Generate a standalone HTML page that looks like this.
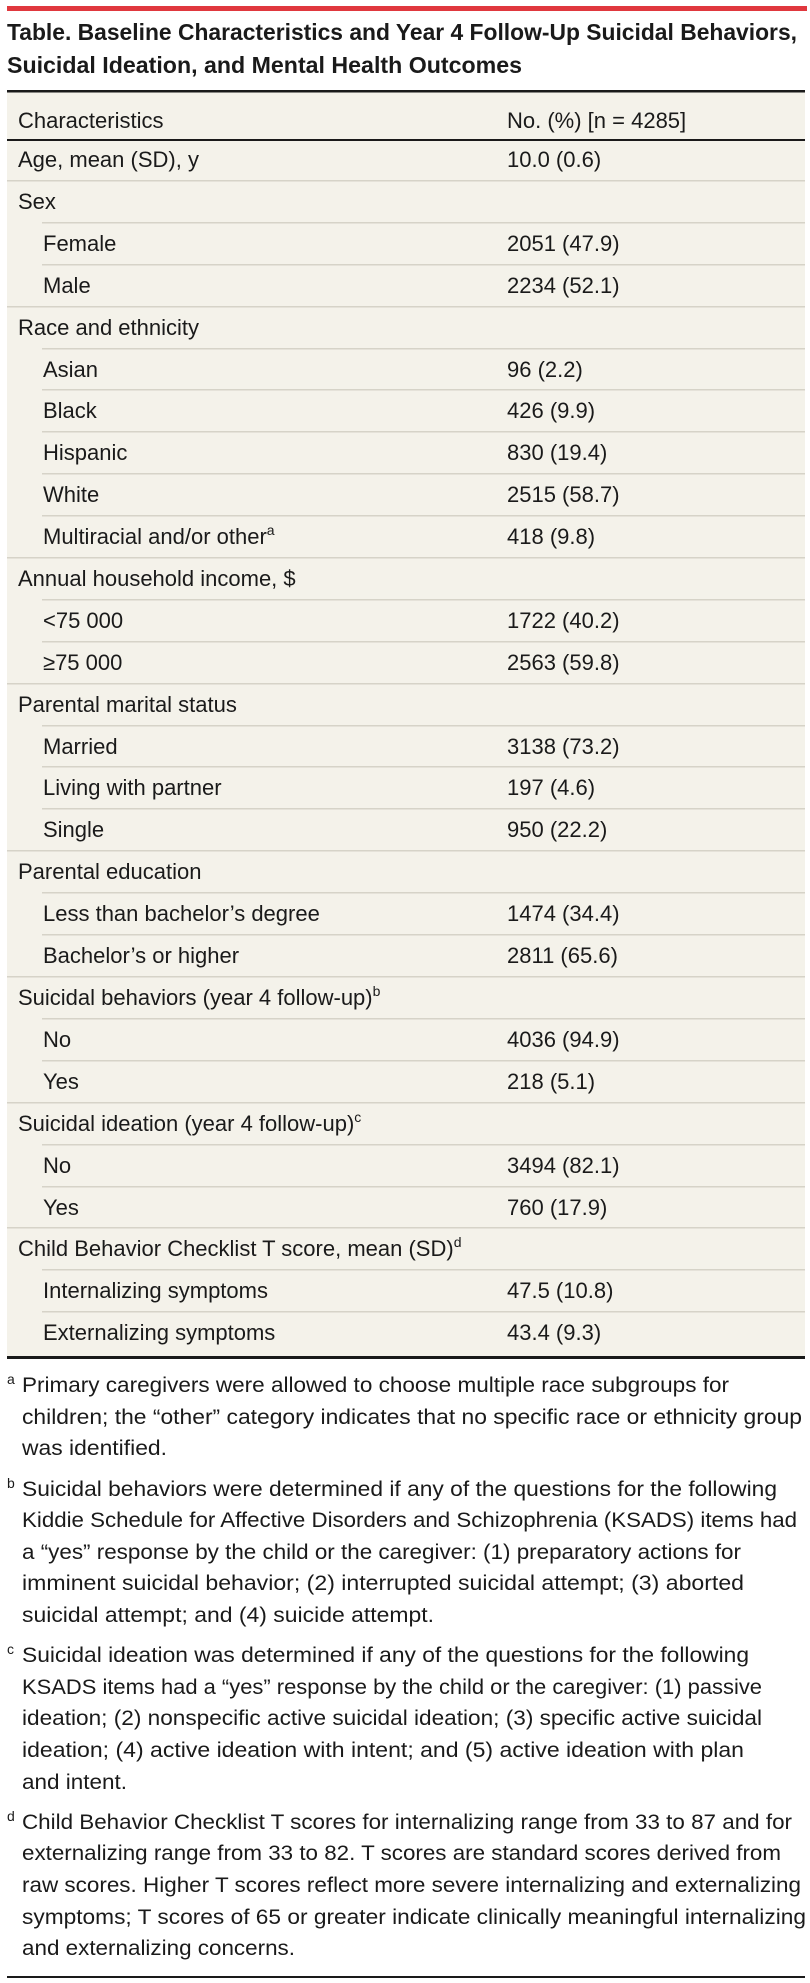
<!DOCTYPE html>
<html><head><meta charset="utf-8"><style>
html,body{margin:0;padding:0;background:#fff;}
svg{display:block;}
text{font-family:"Liberation Sans",sans-serif;fill:#1a1a1a;}
.r{font-size:22px;}
.f{font-size:21px;}
.s{font-size:14px;}
</style></head><body>
<svg width="810" height="1983" viewBox="0 0 810 1983" xmlns="http://www.w3.org/2000/svg">
<rect x="7" y="6" width="800" height="5" fill="#e0383e"/>
<text x="7" y="40" font-size="23" font-weight="bold" textLength="790" lengthAdjust="spacingAndGlyphs">Table. Baseline Characteristics and Year 4 Follow-Up Suicidal Behaviors,</text>
<text x="7" y="73" font-size="23" font-weight="bold" textLength="515" lengthAdjust="spacingAndGlyphs">Suicidal Ideation, and Mental Health Outcomes</text>
<rect x="7" y="91" width="798" height="1266" fill="#f4f2ea"/>
<rect x="7" y="90" width="798" height="2.5" fill="#1a1a1a"/>
<rect x="7" y="139" width="798" height="2" fill="#1a1a1a"/>
<rect x="7" y="1356" width="798" height="3" fill="#1a1a1a"/>
<text class="r" x="18" y="128">Characteristics</text>
<text class="r" x="507" y="128">No. (%) [n = 4285]</text>
<g fill="#d6d3c8">
<rect x="7" y="180" width="798" height="1.5"/>
<rect x="42" y="222" width="763" height="1.5"/>
<rect x="42" y="264" width="763" height="1.5"/>
<rect x="7" y="306" width="798" height="1.5"/>
<rect x="42" y="348" width="763" height="1.5"/>
<rect x="42" y="389" width="763" height="1.5"/>
<rect x="42" y="431" width="763" height="1.5"/>
<rect x="42" y="473" width="763" height="1.5"/>
<rect x="42" y="515" width="763" height="1.5"/>
<rect x="7" y="557" width="798" height="1.5"/>
<rect x="42" y="599" width="763" height="1.5"/>
<rect x="42" y="641" width="763" height="1.5"/>
<rect x="7" y="683" width="798" height="1.5"/>
<rect x="42" y="725" width="763" height="1.5"/>
<rect x="42" y="766" width="763" height="1.5"/>
<rect x="42" y="808" width="763" height="1.5"/>
<rect x="7" y="850" width="798" height="1.5"/>
<rect x="42" y="892" width="763" height="1.5"/>
<rect x="42" y="934" width="763" height="1.5"/>
<rect x="7" y="976" width="798" height="1.5"/>
<rect x="42" y="1018" width="763" height="1.5"/>
<rect x="42" y="1060" width="763" height="1.5"/>
<rect x="7" y="1102" width="798" height="1.5"/>
<rect x="42" y="1144" width="763" height="1.5"/>
<rect x="42" y="1186" width="763" height="1.5"/>
<rect x="7" y="1227" width="798" height="1.5"/>
<rect x="42" y="1269" width="763" height="1.5"/>
<rect x="42" y="1311" width="763" height="1.5"/>
</g>
<g class="r">
<text class="r" x="18" y="167">Age, mean (SD), y</text><text class="r" x="507" y="167">10.0 (0.6)</text>
<text class="r" x="18" y="209">Sex</text>
<text class="r" x="43" y="251">Female</text><text class="r" x="507" y="251">2051 (47.9)</text>
<text class="r" x="43" y="293">Male</text><text class="r" x="507" y="293">2234 (52.1)</text>
<text class="r" x="18" y="335">Race and ethnicity</text>
<text class="r" x="43" y="377">Asian</text><text class="r" x="507" y="377">96 (2.2)</text>
<text class="r" x="43" y="418">Black</text><text class="r" x="507" y="418">426 (9.9)</text>
<text class="r" x="43" y="460">Hispanic</text><text class="r" x="507" y="460">830 (19.4)</text>
<text class="r" x="43" y="502">White</text><text class="r" x="507" y="502">2515 (58.7)</text>
<text class="r" x="43" y="544">Multiracial and/or other<tspan class="s" dy="-9">a</tspan></text><text class="r" x="507" y="544">418 (9.8)</text>
<text class="r" x="18" y="586">Annual household income, $</text>
<text class="r" x="43" y="628">&lt;75 000</text><text class="r" x="507" y="628">1722 (40.2)</text>
<text class="r" x="43" y="670">≥75 000</text><text class="r" x="507" y="670">2563 (59.8)</text>
<text class="r" x="18" y="712">Parental marital status</text>
<text class="r" x="43" y="754">Married</text><text class="r" x="507" y="754">3138 (73.2)</text>
<text class="r" x="43" y="795">Living with partner</text><text class="r" x="507" y="795">197 (4.6)</text>
<text class="r" x="43" y="837">Single</text><text class="r" x="507" y="837">950 (22.2)</text>
<text class="r" x="18" y="879">Parental education</text>
<text class="r" x="43" y="921">Less than bachelor’s degree</text><text class="r" x="507" y="921">1474 (34.4)</text>
<text class="r" x="43" y="963">Bachelor’s or higher</text><text class="r" x="507" y="963">2811 (65.6)</text>
<text class="r" x="18" y="1005">Suicidal behaviors (year 4 follow-up)<tspan class="s" dy="-9">b</tspan></text>
<text class="r" x="43" y="1047">No</text><text class="r" x="507" y="1047">4036 (94.9)</text>
<text class="r" x="43" y="1089">Yes</text><text class="r" x="507" y="1089">218 (5.1)</text>
<text class="r" x="18" y="1131">Suicidal ideation (year 4 follow-up)<tspan class="s" dy="-9">c</tspan></text>
<text class="r" x="43" y="1173">No</text><text class="r" x="507" y="1173">3494 (82.1)</text>
<text class="r" x="43" y="1215">Yes</text><text class="r" x="507" y="1215">760 (17.9)</text>
<text class="r" x="18" y="1256">Child Behavior Checklist T score, mean (SD)<tspan class="s" dy="-9">d</tspan></text>
<text class="r" x="43" y="1298">Internalizing symptoms</text><text class="r" x="507" y="1298">47.5 (10.8)</text>
<text class="r" x="43" y="1340">Externalizing symptoms</text><text class="r" x="507" y="1340">43.4 (9.3)</text>
</g>
<text class="s" x="7" y="1384">a</text>
<text class="f" x="22" y="1392" textLength="707" lengthAdjust="spacingAndGlyphs">Primary caregivers were allowed to choose multiple race subgroups for</text>
<text class="f" x="22" y="1424" textLength="780" lengthAdjust="spacingAndGlyphs">children; the “other” category indicates that no specific race or ethnicity group</text>
<text class="f" x="22" y="1455" textLength="145" lengthAdjust="spacingAndGlyphs">was identified.</text>
<text class="s" x="7" y="1488">b</text>
<text class="f" x="22" y="1496" textLength="755" lengthAdjust="spacingAndGlyphs">Suicidal behaviors were determined if any of the questions for the following</text>
<text class="f" x="22" y="1527" textLength="775" lengthAdjust="spacingAndGlyphs">Kiddie Schedule for Affective Disorders and Schizophrenia (KSADS) items had</text>
<text class="f" x="22" y="1559" textLength="719" lengthAdjust="spacingAndGlyphs">a “yes” response by the child or the caregiver: (1) preparatory actions for</text>
<text class="f" x="22" y="1590" textLength="722" lengthAdjust="spacingAndGlyphs">imminent suicidal behavior; (2) interrupted suicidal attempt; (3) aborted</text>
<text class="f" x="22" y="1622" textLength="412" lengthAdjust="spacingAndGlyphs">suicidal attempt; and (4) suicide attempt.</text>
<text class="s" x="7" y="1654">c</text>
<text class="f" x="22" y="1662" textLength="727" lengthAdjust="spacingAndGlyphs">Suicidal ideation was determined if any of the questions for the following</text>
<text class="f" x="22" y="1694" textLength="740" lengthAdjust="spacingAndGlyphs">KSADS items had a “yes” response by the child or the caregiver: (1) passive</text>
<text class="f" x="22" y="1725" textLength="740" lengthAdjust="spacingAndGlyphs">ideation; (2) nonspecific active suicidal ideation; (3) specific active suicidal</text>
<text class="f" x="22" y="1757" textLength="722" lengthAdjust="spacingAndGlyphs">ideation; (4) active ideation with intent; and (5) active ideation with plan</text>
<text class="f" x="22" y="1789" textLength="105" lengthAdjust="spacingAndGlyphs">and intent.</text>
<text class="s" x="7" y="1821">d</text>
<text class="f" x="22" y="1829" textLength="770" lengthAdjust="spacingAndGlyphs">Child Behavior Checklist T scores for internalizing range from 33 to 87 and for</text>
<text class="f" x="22" y="1860" textLength="759" lengthAdjust="spacingAndGlyphs">externalizing range from 33 to 82. T scores are standard scores derived from</text>
<text class="f" x="22" y="1892" textLength="779" lengthAdjust="spacingAndGlyphs">raw scores. Higher T scores reflect more severe internalizing and externalizing</text>
<text class="f" x="22" y="1924" textLength="784" lengthAdjust="spacingAndGlyphs">symptoms; T scores of 65 or greater indicate clinically meaningful internalizing</text>
<text class="f" x="22" y="1955" textLength="273" lengthAdjust="spacingAndGlyphs">and externalizing concerns.</text>
<rect x="7" y="1976" width="798" height="2" fill="#1a1a1a"/>
</svg>
</body></html>
